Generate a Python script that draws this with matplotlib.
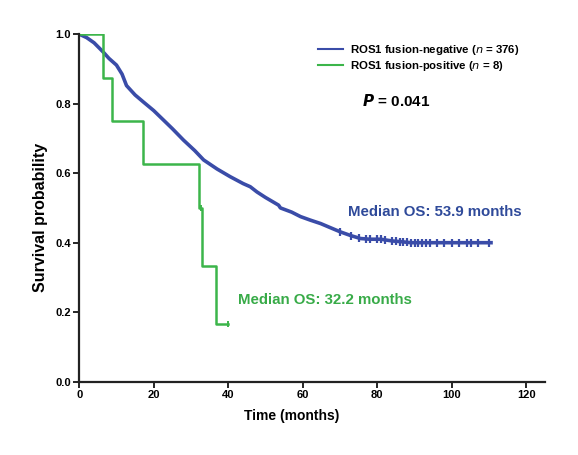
import numpy as np
import matplotlib.pyplot as plt
from matplotlib.lines import Line2D

plt.rcParams['font.family'] = ['Liberation Sans', 'DejaVu Sans']

# ROS1 fusion-negative curve (months, survival)
neg_t = [0, 2, 4, 6.4, 8, 10, 11.5, 12.7, 15, 17.2, 20, 22.6, 25, 28, 31, 33.4,
         37, 40.5, 44, 45.9, 47.7, 50, 53.5, 54, 57, 59.4, 62, 64.8, 67, 70.1,
         73, 75.5, 78, 80.9, 84, 86.3, 89, 91.7, 110.5]
neg_s = [1.0, 0.99, 0.975, 0.949, 0.93, 0.911, 0.885, 0.852, 0.825, 0.805, 0.78,
         0.753, 0.728, 0.695, 0.665, 0.638, 0.612, 0.59, 0.57, 0.561, 0.546,
         0.53, 0.508, 0.5, 0.488, 0.475, 0.465, 0.455, 0.445, 0.431, 0.42,
         0.412, 0.41, 0.41, 0.405, 0.403, 0.4, 0.4, 0.4]
neg_cens_t = [70, 73, 75, 77, 78, 80, 81, 82, 84, 85, 86, 87, 88, 89, 90, 91,
              92, 93, 94, 96, 98, 100, 102, 104, 105, 107, 110]

# ROS1 fusion-positive curve (n = 8)
pos_t = [0, 6.5, 8.9, 17.2, 32.2, 33.0, 36.8, 40.0]
pos_s = [1.0, 0.875, 0.75, 0.625, 0.5, 0.333, 0.167, 0.167]
pos_cens_t = [32.6, 40.0]
pos_cens_s = [0.5, 0.167]

blue = '#3a4ca8'
green = '#3cb54a'

fig = plt.figure(figsize=(5.78, 4.55), dpi=100)
ax = fig.add_axes([0.137, 0.161, 0.806, 0.764])

# many tiny steps for n = 376, drawn as a connected line
ax.plot(neg_t, neg_s, color=blue, lw=2.6, solid_joinstyle='round')
cens_s = np.interp(neg_cens_t, neg_t, neg_s)
ax.plot(neg_cens_t, cens_s, ls='none', marker='|', ms=6, mew=1.6, color=blue)

ax.step(pos_t, pos_s, where='post', color=green, lw=1.8)
ax.plot(pos_cens_t, pos_cens_s, ls='none', marker='|', ms=5, mew=1.4, color=green)

ax.set_xlim(0, 125)
ax.set_ylim(0, 1.0)
ax.set_xticks(range(0, 121, 20))
ax.set_yticks([0, 0.2, 0.4, 0.6, 0.8, 1.0])
ax.set_yticklabels(['%.1f' % v for v in [0, 0.2, 0.4, 0.6, 0.8, 1.0]])
for s in ['top', 'right']:
    ax.spines[s].set_visible(False)
for s in ['left', 'bottom']:
    ax.spines[s].set_linewidth(1.6)
    ax.spines[s].set_color('#222222')
ax.tick_params(direction='out', length=4, width=1.2, labelsize=8, pad=2)
for lab in ax.get_xticklabels() + ax.get_yticklabels():
    lab.set_fontweight('bold')

ax.set_xlabel('Time (months)', fontsize=10, fontweight='bold')
ax.xaxis.set_label_coords(0.456, -0.078)
ax.set_ylabel('Survival probability', fontsize=11.5, fontweight='bold')
ax.yaxis.set_label_coords(-0.066, 0.472)

handles = [Line2D([], [], color=blue, lw=1.5), Line2D([], [], color=green, lw=1.5)]
labels = [r'ROS1 fusion-negative ($\mathit{n}$ = 376)',
          r'ROS1 fusion-positive ($\mathit{n}$ = 8)']
leg = ax.legend(handles, labels, loc='upper left', bbox_to_anchor=(0.49, 1.005),
                frameon=False, handlelength=2.2, handletextpad=0.6,
                labelspacing=0.25, prop={'weight': 'bold', 'size': 8.2})

ax.text(0.607, 0.807, r'$\mathbfit{P}$ = 0.041', transform=ax.transAxes,
        fontsize=11, fontweight='bold', ha='left', va='center')
ax.text(0.578, 0.487, 'Median OS: 53.9 months', transform=ax.transAxes,
        color='#2f4a9a', fontsize=10.8, fontweight='bold', ha='left', va='center')
ax.text(0.341, 0.235, 'Median OS: 32.2 months', transform=ax.transAxes,
        color='#38ab48', fontsize=10.8, fontweight='bold', ha='left', va='center')

fig.savefig('out.png', dpi=100)
